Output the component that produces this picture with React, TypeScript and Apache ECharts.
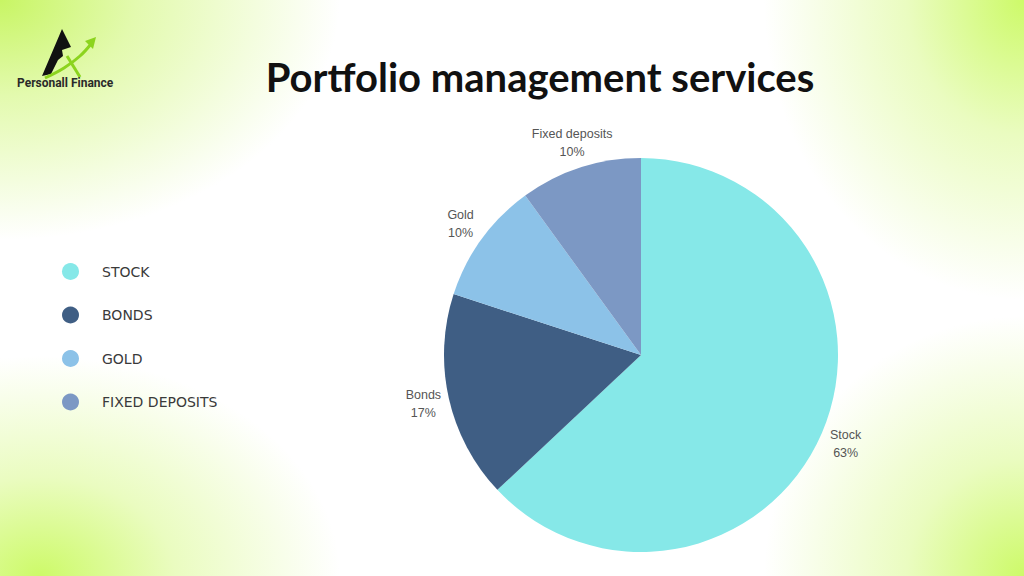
import React, { useEffect, useRef } from "react";
import * as echarts from "echarts";

const categories = ["Stock", "Bonds", "Gold", "Fixed deposits"];
const values = [63, 17, 10, 10];
const colors = ["#86E8E8", "#3F5E84", "#8CC2E8", "#7C98C4"];
const titleText = "Portfolio management services";
const brandText = "Personall Finance";

const CX = 641;
const CY = 355;
const R = 197;
const LABEL_OFFSET = 26;

export default function App() {
  const ref = useRef<HTMLDivElement>(null);
  useEffect(() => {
    if (!ref.current) return;
    const chart = echarts.init(ref.current, null, { renderer: "svg" });
    const total = values.reduce((a, b) => a + b, 0);
    const mids: number[] = [];
    let acc = 0;
    values.forEach((v) => {
      mids.push(acc + v / 2);
      acc += v;
    });
    chart.setOption({
      animation: false,
      backgroundColor: "transparent",
      title: {
        text: titleText,
        left: 535,
        top: 52,
        textAlign: "center",
        textStyle: {
          fontFamily: "Lato",
          fontWeight: 700,
          fontSize: 40,
          color: "#111111",
        },
      },
      legend: {
        orient: "vertical",
        left: 57,
        top: 258,
        icon: "circle",
        itemWidth: 17,
        itemHeight: 17,
        itemGap: 26.5,
        selectedMode: false,
        formatter: (name: string) => name.toUpperCase(),
        textStyle: {
          fontFamily: "DejaVu Sans",
          fontSize: 14,
          color: "#3a3a3a",
          padding: [0, 0, 0, 18],
        },
        data: categories,
      },
      graphic: [
        {
          type: "polygon",
          shape: { points: [[62, 29], [42, 76], [51, 74], [58, 60], [63, 56], [62, 50], [71, 47]] },
          style: { fill: "#111111" },
        },
        {
          type: "polyline",
          shape: { points: [[45, 78], [64, 68], [80, 56], [91, 44]], smooth: 0.4 },
          style: { stroke: "#8CD41E", lineWidth: 3, fill: "none" },
        },
        {
          type: "polygon",
          shape: { points: [[96, 37], [85, 41], [93, 49]] },
          style: { fill: "#8CD41E" },
        },
        {
          type: "line",
          shape: { x1: 67, y1: 56, x2: 80, y2: 77 },
          style: { stroke: "#8CD41E", lineWidth: 3 },
        },
        {
          type: "text",
          left: 17,
          top: 77,
          style: {
            text: brandText,
            font: "bold 12px Roboto",
            fill: "#2a2a2a",
          },
        },
      ],
      series: [
        {
          type: "pie",
          center: [CX, CY],
          radius: R,
          startAngle: 90,
          clockwise: true,
          label: {
            show: true,
            position: "outside",
            formatter: "{b}\n{d}%",
            fontFamily: "Liberation Sans",
            fontSize: 12.5,
            lineHeight: 18,
            color: "#555555",
            align: "center",
          },
          labelLine: { show: false, length: 10, length2: 0 },
          labelLayout: (p: any) => {
            const frac = mids[p.dataIndex] / total;
            const ang = Math.PI / 2 - frac * Math.PI * 2;
            const r = R + LABEL_OFFSET;
            return {
              x: CX + r * Math.cos(ang),
              y: CY - r * Math.sin(ang),
              align: "center",
              verticalAlign: "middle",
            };
          },
          itemStyle: { borderWidth: 0 },
          emphasis: { disabled: true },
          data: categories.map((c, i) => ({
            name: c,
            value: values[i],
            itemStyle: { color: colors[i] },
          })),
        },
      ],
    });
    return () => chart.dispose();
  }, []);

  const bg = [
    "radial-gradient(ellipse 340px 240px at 0px 0px, rgba(200,245,100,1) 0%, rgba(215,248,140,0.7) 40%, rgba(255,255,255,0) 100%)",
    "radial-gradient(ellipse 260px 300px at 1024px 0px, rgba(205,250,105,1) 0%, rgba(220,250,150,0.6) 45%, rgba(255,255,255,0) 100%)",
    "radial-gradient(ellipse 300px 220px at 40px 576px, rgba(205,250,105,1) 0%, rgba(220,250,150,0.6) 45%, rgba(255,255,255,0) 100%)",
    "radial-gradient(ellipse 260px 260px at 1024px 576px, rgba(205,250,105,1) 0%, rgba(220,250,150,0.6) 45%, rgba(255,255,255,0) 100%)",
    "#ffffff",
  ].join(",");

  return (
    <div
      style={{
        position: "fixed",
        left: 0,
        top: 0,
        width: 1024,
        height: 576,
        background: bg,
      }}
    >
      <div ref={ref} style={{ width: 1024, height: 576 }} />
    </div>
  );
}
